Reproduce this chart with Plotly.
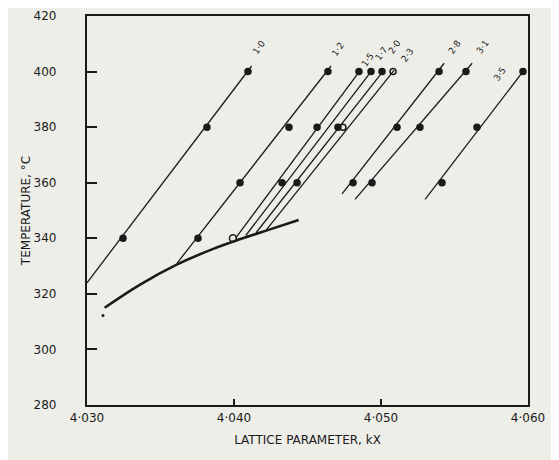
import plotly.graph_objects as go

# ---- data ----
# straight lines: measured points (temperature, lattice parameter)
line_T = [
    [340, 380, 400],
    [340, 360, 380, 400],
    [360, 380, 400],
    [400],
    [360, 380, 400],
    [380, 400],
    [360, 380, 400],
    [360, 380, 400],
    [360, 380, 400],
]
line_a = [
    [4.03245, 4.03816, 4.04095],
    [4.03755, 4.04041, 4.04374, 4.04639],
    [4.04327, 4.04565, 4.04850],
    [4.04932],
    [4.04429, 4.04707, 4.05007],
    [4.04741, 4.05082],
    [4.04810, 4.05109, 4.05395],
    [4.04939, 4.05265, 4.05578],
    [4.05415, 4.05653, 4.05966],
]
open_marker = [False, False, False, False, False, True, False, False, False]
# line extents (lower end, upper end)
lo_a = [4.0300, 4.03612, 4.0401, 4.0408, 4.0415, 4.0422, 4.04735, 4.04823, 4.0530]
lo_T = [324, 331, 340, 341, 342, 343, 356, 354, 354]
hi_a = [4.0412, 4.0466, 4.0486, 4.0494, 4.0502, 4.0509, 4.0543, 4.0562, 4.0598]
hi_T = [402, 402, 400.5, 400.5, 400.5, 400.5, 403, 403, 401]
line_labels = ["1·0", "1·2", "1·5", "1·7", "2·0", "2·3", "2·8", "3·1", "3·5"]
label_a = [4.0417, 4.0471, 4.0491, 4.0500, 4.0509, 4.0518, 4.0550, 4.0569, 4.0581]
label_T = [409, 408, 404, 406.5, 409, 406, 409, 409, 399]

# solvus curve
curve_a = [4.0312, 4.0335, 4.0361, 4.0385, 4.0405, 4.0425, 4.0444]
curve_T = [315, 323, 330.5, 336, 339.8, 343.3, 346.6]
extra_open_a = [4.03993]
extra_open_T = [340]
stray_a = [4.03109]
stray_T = [312.2]

x_ticks = [4.030, 4.040, 4.050, 4.060]
x_ticktext = ["4·030", "4·040", "4·050", "4·060"]
y_ticks = [280, 300, 320, 340, 360, 380, 400, 420]
y_ticktext = ["280", "300", "320", "340", "360", "380", "400", "420"]

ink = "#1a1a1a"
paper = "#eeeee9"
fig = go.Figure()

for i in range(len(line_T)):
    fig.add_trace(go.Scatter(x=[lo_a[i], hi_a[i]], y=[lo_T[i], hi_T[i]], mode="lines",
                             line=dict(color=ink, width=1.3), hoverinfo="skip", showlegend=False))
    fig.add_trace(go.Scatter(x=line_a[i], y=line_T[i], mode="markers",
                             marker=dict(symbol="circle-open" if open_marker[i] else "circle",
                                         size=6, color=ink, line=dict(color=ink, width=1.5)),
                             showlegend=False))

fig.add_trace(go.Scatter(x=curve_a, y=curve_T, mode="lines", line=dict(color=ink, width=2.6, shape="spline"),
                         showlegend=False))
fig.add_trace(go.Scatter(x=extra_open_a, y=extra_open_T, mode="markers",
                         marker=dict(symbol="circle-open", size=7, color=ink, line=dict(width=1.5)),
                         showlegend=False))
fig.add_trace(go.Scatter(x=stray_a, y=stray_T, mode="markers", marker=dict(size=3, color=ink),
                         showlegend=False))

for t, a, T in zip(line_labels, label_a, label_T):
    fig.add_annotation(x=a, y=T, text=t, showarrow=False, textangle=-55,
                       font=dict(size=9, color=ink, family="DejaVu Sans"))

axis_common = dict(showgrid=False, zeroline=False, showline=True, linecolor=ink, linewidth=2.2,
                   mirror=True, ticks="inside", tickcolor=ink, tickwidth=2.2, automargin=False)

fig.update_xaxes(range=[4.030, 4.060], tickvals=x_ticks, ticktext=x_ticktext, ticklen=6,
                 tickfont=dict(size=12, color=ink, family="DejaVu Sans"),
                 title=dict(text="LATTICE PARAMETER, kX", font=dict(size=12, color=ink, family="DejaVu Sans"),
                            standoff=12), **axis_common)
fig.update_yaxes(range=[280, 420], tickvals=y_ticks, ticktext=y_ticktext, ticklen=10,
                 ticklabelstandoff=26,
                 tickfont=dict(size=12, color=ink, family="DejaVu Sans"),
                 title=dict(text="TEMPERATURE, °C", font=dict(size=12, color=ink, family="DejaVu Sans"),
                            standoff=0), **axis_common)

fig.update_layout(width=551, height=452, margin=dict(l=79, r=31, t=8, b=55),
                  plot_bgcolor=paper, paper_bgcolor=paper, showlegend=False)

fig.write_html("out.html")
